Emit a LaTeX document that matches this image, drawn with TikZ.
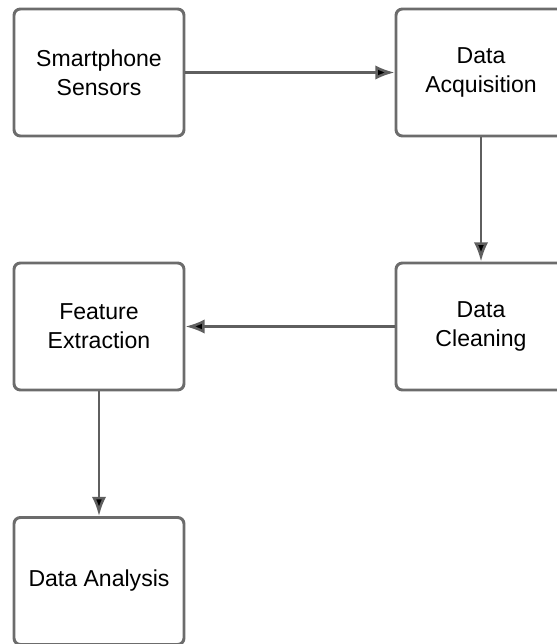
\documentclass[tikz,border=0pt]{standalone}
\usepackage{fontspec}
\setmainfont{Liberation Sans}
\usepackage{tikz}
\usetikzlibrary{arrows,arrows.meta}
\definecolor{boxgray}{RGB}{108,108,108}
\definecolor{arrgray}{RGB}{95,95,95}

\begin{document}
\begin{tikzpicture}[scale=1,
  stage/.style={draw=boxgray, line width=2.1pt, rounded corners=4.5pt,
    minimum width=4.25cm, minimum height=3.175cm, align=center,
    font=\fontsize{16.4}{20.8}\selectfont, fill=white},
  flow/.style={->, >={Latex[length=0.48cm,width=0.36cm]}, draw=arrgray, line width=1.8pt}]
\useasboundingbox (0,0) rectangle (13.925,-16.1);

\node[stage] (A1) at (2.475,-1.8125) {Smartphone\\Sensors};
\node[stage] (A2) at (12.025,-1.8125) {Data\\Acquisition};

\node[stage] (B1) at (2.475,-8.1625) {Feature\\Extraction};
\node[stage] (B2) at (12.025,-8.1625) {Data\\Cleaning};

\node[stage] (C1) at (2.475,-14.525) {Data Analysis};

\path[flow] (A1) edge [] node[]{} (A2);
\path[flow] (A2) edge [] node[]{} (B2);
\path[flow] (B2) edge [] node[]{} (B1);
\path[flow] (B1) edge [] node[]{} (C1);
\end{tikzpicture}
\end{document}
